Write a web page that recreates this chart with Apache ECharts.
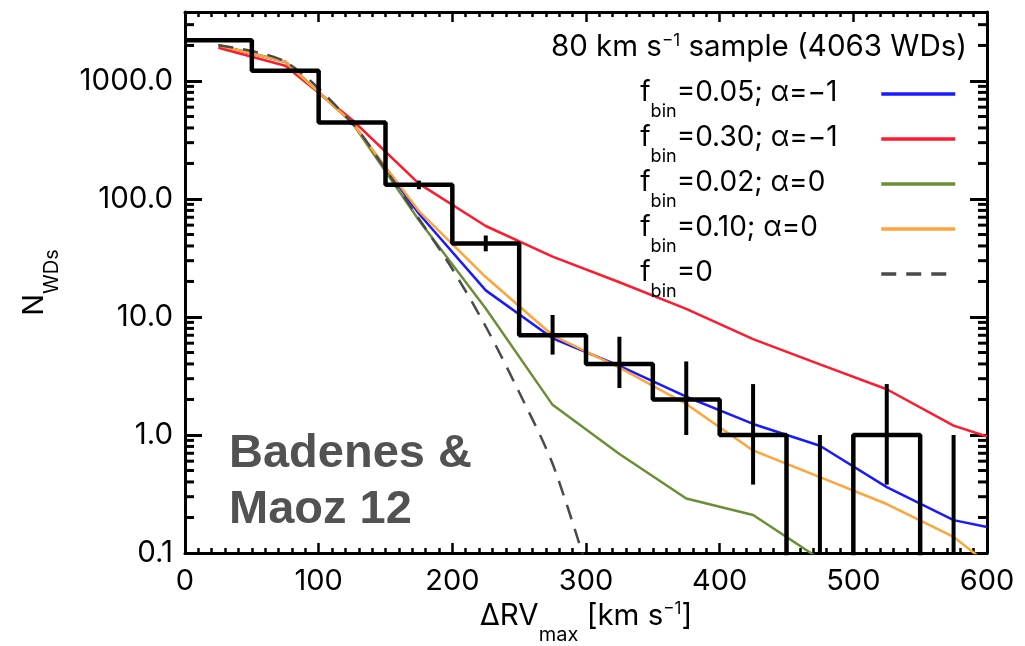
<!DOCTYPE html>
<html>
<head>
<meta charset="utf-8">
<script src="https://cdn.jsdelivr.net/npm/echarts@6/dist/echarts.min.js"></script>
<style>
  html, body { margin: 0; padding: 0; background: #fff; }
  #chart { width: 1025px; height: 646px; }
</style>
</head>
<body>
<div id="chart"></div>
<script>
// histogram of observed ΔRV_max (bin width 50 km/s)
const binEdges = [0, 50, 100, 150, 200, 250, 300, 350, 400, 450, 500, 550, 600]
const binCenters = [25, 75, 125, 175, 225, 275, 325, 375, 425, 475, 525, 575]
const counts = [2210, 1220, 444, 132, 42, 7, 4, 2, 1, 0, 1, 0]
const errLow = [2163, 1185, 423, 121, 36, 4.8, 2.5, 1.0, 0.38, 0.1, 0.38, 0.1]
const errHigh = [2257, 1255, 465, 143, 49, 10.4, 6.8, 4.2, 2.7, 1.0, 2.7, 1.0]

// model curves
const modelX = [25, 75, 125, 175, 225, 275, 325, 375, 425, 475, 525, 575, 600]
const blueY = [2010, 1455, 444, 75, 16.8, 6.6, 3.85, 2.11, 1.24, 0.81, 0.362, 0.19, 0.166]
const redY = [1910, 1346, 469, 135, 59, 32.5, 19.7, 11.7, 6.5, 3.97, 2.44, 1.2, 0.97]
const greenY = [2010, 1455, 444, 66, 11.8, 1.8, 0.69, 0.29, 0.21, 0.089, null, null, null]
const orangeY = [2010, 1455, 444, 79, 21.8, 7.0, 3.72, 1.83, 0.74, 0.44, 0.26, 0.137, 0.082]
const zeroX = [25, 75, 125, 150, 175, 200, 225, 250, 275, 300]
const zeroY = [2010, 1455, 440, 178, 68, 25.5, 8.3, 2.3, 0.57, 0.079]

const seriesNames = ['f_bin=0.05; α=−1', 'f_bin=0.30; α=−1', 'f_bin=0.02; α=0', 'f_bin=0.10; α=0', 'f_bin=0']
const seriesColors = ['#1a1aff', '#ff1a2e', '#6a8f35', '#ffa43a', '#4a4a4a']

const yMin = 0.1
const yMax = 3840

const FONT = "Inter, 'Liberation Sans', Arial, sans-serif"
const BOLD_FONT = "'Liberation Sans', Arial, sans-serif"

// minor ticks of the log axis: 2..9 x 10^k
const minorTickVals = []
for (let k = -1; k <= 3; k++) {
  for (let m = 2; m <= 9; m++) {
    const v = m * Math.pow(10, k)
    if (v < yMax) minorTickVals.push(v)
  }
}

const chart = echarts.init(document.getElementById('chart'))

const pairs = (xs, ys) => xs.map((x, i) => [x, ys[i]])

// step data: left edges, last edge repeats the last bin, empty bins pushed below the axis
const histData = binEdges.map((e, i) => {
  const c = i < counts.length ? counts[i] : counts[counts.length - 1]
  return [e, c > 0 ? c : 0.01]
})

const lineSeries = [blueY, redY, greenY, orangeY].map((ys, i) => ({
  name: seriesNames[i],
  type: 'line',
  data: pairs(modelX, ys),
  symbol: 'none',
  clip: true,
  z: 3,
  lineStyle: { color: seriesColors[i], width: 2.5 },
  itemStyle: { color: seriesColors[i] }
}))

lineSeries.push({
  name: seriesNames[4],
  type: 'line',
  data: pairs(zeroX, zeroY),
  symbol: 'none',
  smooth: 0.3,
  clip: true,
  z: 3,
  lineStyle: { color: seriesColors[4], width: 2.5, type: [15, 10] },
  itemStyle: { color: seriesColors[4] }
})

// rich text pieces: subscripts pushed down / superscripts pushed up with padding
const txt = (size, extra) => Object.assign({ fontSize: size, lineHeight: 30, color: '#000', fill: '#000', fontFamily: FONT, align: 'left' }, extra || {})

const option = {
  animation: false,
  backgroundColor: '#fff',
  grid: { left: 185, right: 38, top: 12, bottom: 93, containLabel: false, outerBoundsMode: 'none' },
  textStyle: { fontFamily: FONT },
  legend: {
    data: seriesNames,
    orient: 'vertical',
    align: 'right',
    right: 68,
    top: 67,
    padding: 0,
    itemWidth: 74,
    itemHeight: 14,
    itemGap: -9,
    selectedMode: false,
    itemStyle: { opacity: 0 },
    lineStyle: { width: 3.5 },
    formatter: (name) => '{f|f}{s|bin}{t|' + name.replace('f_bin', '') + '}',
    textStyle: {
      width: 236,
      fontFamily: FONT,
      rich: {
        f: txt(28, { padding: [0, 0, 3, 0] }),
        s: txt(18, { lineHeight: 20, padding: [36, 0, 0, 0] }),
        t: txt(28, { padding: [0, 0, 3, 0] })
      }
    }
  },
  xAxis: [
    {
      type: 'value',
      min: 0,
      max: 600,
      interval: 100,
      name: '{m|ΔRV}{s|max}{m| [km s}{p|−1}{m|]}',
      nameLocation: 'middle',
      nameGap: 48,
      nameMoveOverlap: false,
      nameTextStyle: {
        rich: {
          m: txt(29.5),
          s: txt(20, { lineHeight: 20, padding: [38, 0, 0, 0] }),
          p: txt(17, { lineHeight: 17, padding: [0, 0, 14, 0] })
        }
      },
      axisLine: { show: true, onZero: false, lineStyle: { color: '#000', width: 3 } },
      axisTick: { show: true, inside: true, length: 10, lineStyle: { color: '#000', width: 2.5 } },
      minorTick: { show: true, splitNumber: 10, length: 5, lineStyle: { color: '#000', width: 2.5 } },
      axisLabel: { fontSize: 29, color: '#000', margin: 14, fontFamily: FONT },
      splitLine: { show: false }
    },
    {
      type: 'value',
      position: 'top',
      min: 0,
      max: 600,
      interval: 100,
      axisLine: { show: true, onZero: false, lineStyle: { color: '#000', width: 3 } },
      axisTick: { show: true, inside: true, length: 10, lineStyle: { color: '#000', width: 2.5 } },
      minorTick: { show: true, splitNumber: 10, length: 5, lineStyle: { color: '#000', width: 2.5 } },
      axisLabel: { show: false },
      splitLine: { show: false }
    }
  ],
  yAxis: [
    {
      type: 'log',
      logBase: 10,
      min: yMin,
      max: yMax,
      name: '{m|N}{s|WDs}',
      nameLocation: 'middle',
      nameGap: 136,
      nameMoveOverlap: false,
      nameTextStyle: {
        rich: {
          m: txt(29),
          s: txt(20, { lineHeight: 20, padding: [36, 0, 0, 0] })
        }
      },
      axisLine: { show: true, onZero: false, lineStyle: { color: '#000', width: 3 } },
      axisTick: { show: true, inside: true, length: 17, lineStyle: { color: '#000', width: 3 } },
      axisLabel: {
        fontSize: 29.5,
        color: '#000',
        margin: 12,
        fontFamily: FONT,
        showMaxLabel: false,
        formatter: (v) => {
          const l = Math.log10(v)
          if (Math.abs(l - Math.round(l)) > 1e-6) return ''
          return v.toFixed(1)
        }
      },
      splitLine: { show: false }
    },
    {
      type: 'log',
      logBase: 10,
      position: 'right',
      min: yMin,
      max: yMax,
      axisLine: { show: true, onZero: false, lineStyle: { color: '#000', width: 3 } },
      axisTick: { show: true, inside: true, length: 17, lineStyle: { color: '#000', width: 3 } },
      axisLabel: { show: false },
      splitLine: { show: false }
    }
  ],
  graphic: [
    {
      type: 'text',
      right: 1025 - 967,
      top: 32,
      style: {
        text: '{m|80 km s}{p|−1}{m| sample (4063 WDs)}',
        fill: '#000',
        rich: {
          m: txt(29.5),
          p: txt(17, { lineHeight: 17, padding: [0, 0, 14, 0] })
        }
      },
      z: 10
    },
    {
      type: 'text',
      left: 229,
      top: 426,
      style: {
        text: 'Badenes &\nMaoz 12',
        fill: '#525252',
        font: 'bold 47px ' + BOLD_FONT,
        lineHeight: 56
      },
      z: 10
    }
  ],
  series: [
    ...lineSeries,
    {
      name: 'hist',
      type: 'line',
      data: histData,
      step: 'end',
      symbol: 'none',
      clip: true,
      z: 5,
      lineStyle: { color: '#000', width: 4.5 }
    },
    {
      name: 'errors',
      type: 'custom',
      data: binCenters.map((c, i) => [c, errLow[i], errHigh[i]]),
      encode: { x: 0, y: [1, 2] },
      clip: true,
      z: 6,
      renderItem: (params, api) => {
        const p1 = api.coord([api.value(0), api.value(1)])
        const p2 = api.coord([api.value(0), api.value(2)])
        return {
          type: 'line',
          shape: { x1: p1[0], y1: p1[1], x2: p2[0], y2: p2[1] },
          style: { stroke: '#000', lineWidth: 4 }
        }
      }
    },
    {
      name: 'minorTicks',
      type: 'custom',
      data: minorTickVals.map((v) => [0, v]),
      encode: { x: 0, y: 1 },
      z: 6,
      silent: true,
      renderItem: (params, api) => {
        const cs = params.coordSys
        const y = api.coord([0, api.value(1)])[1]
        return {
          type: 'group',
          children: [
            { type: 'line', shape: { x1: cs.x, y1: y, x2: cs.x + 9, y2: y }, style: { stroke: '#000', lineWidth: 3 } },
            { type: 'line', shape: { x1: cs.x + cs.width - 9, y1: y, x2: cs.x + cs.width, y2: y }, style: { stroke: '#000', lineWidth: 3 } }
          ]
        }
      }
    }
  ]
}

chart.setOption(option)
</script>
</body>
</html>
